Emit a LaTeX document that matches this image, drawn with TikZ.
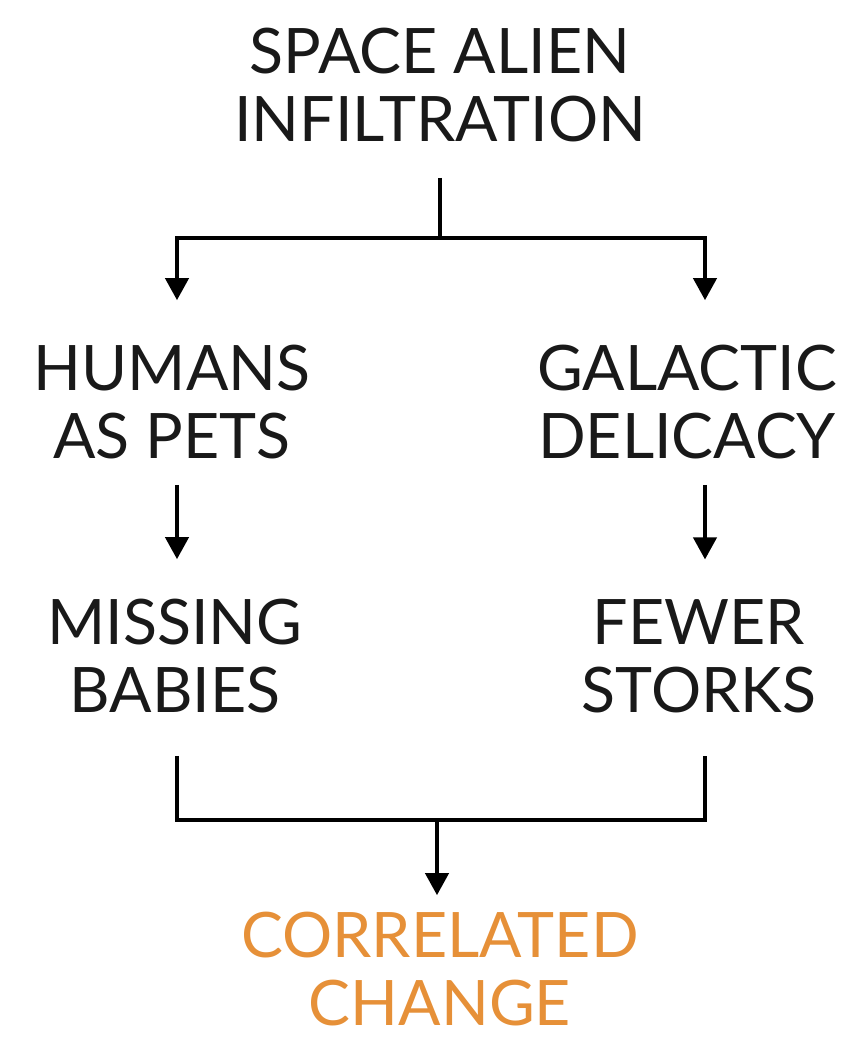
\documentclass[tikz,border=0pt]{standalone}
\usepackage{fontspec}
\setmainfont{Lato}
\usepackage{xcolor}
\definecolor{corrorange}{RGB}{230,144,56}
\usetikzlibrary{arrows.meta, calc}

\begin{document}
\begin{tikzpicture}[x=0.02cm, y=-0.02cm,
  font=\fontsize{35.7}{38.7}\selectfont,
  label/.style={align=center, inner sep=0pt, text=black!90},
  link/.style={line width=2.3pt},
  arrow/.style={line width=2.3pt, -{Triangle[width=0.46cm, length=0.44cm]}}]
  \useasboundingbox (0,0) rectangle (865,1045);

  % Boxes of text (no frames)
  \node[label] (alien)  at (440, 85.5)  {SPACE ALIEN\\INFILTRATION};
  \node[label] (pets)   at (172, 402.5) {HUMANS\\AS PETS};
  \node[label] (food)   at (687, 402.5) {GALACTIC\\DELICACY};
  \node[label] (babies) at (175, 656.5) {MISSING\\BABIES};
  \node[label] (storks) at (699, 656.5) {FEWER\\STORKS};
  \node[label, text=corrorange] (change) at (440, 969.5) {CORRELATED\\CHANGE};

  % Fork and join points of the two brackets
  \coordinate (fork)  at (440, 238);
  \coordinate (forkL) at (177, 238);
  \coordinate (forkR) at (705, 238);
  \coordinate (join)  at (437, 820);
  \coordinate (joinL) at (177, 820);
  \coordinate (joinR) at (705, 820);

  % Top: one cause splits in two
  \draw[link, shorten <=0.7cm] (alien.south) -- (fork);
  \draw[arrow, shorten >=0.9cm] (fork) -- (forkL) -- (forkL |- pets.north);
  \draw[arrow, shorten >=0.9cm] (fork) -- (forkR) -- (forkR |- food.north);

  % Middle: each branch goes on
  \draw[arrow, shorten <=0.5cm, shorten >=0.8cm] (forkL |- pets.south) -- (forkL |- babies.north);
  \draw[arrow, shorten <=0.5cm, shorten >=0.8cm] (forkR |- food.south) -- (forkR |- storks.north);

  % Bottom: both branches meet again
  \draw[link, shorten <=0.84cm, shorten >=0.84cm]
    (joinL |- babies.south) -- (joinL) -- (joinR) -- (joinR |- storks.south);
  \draw[arrow, shorten >=0.34cm] (join) -- (join |- change.north);
\end{tikzpicture}
\end{document}
